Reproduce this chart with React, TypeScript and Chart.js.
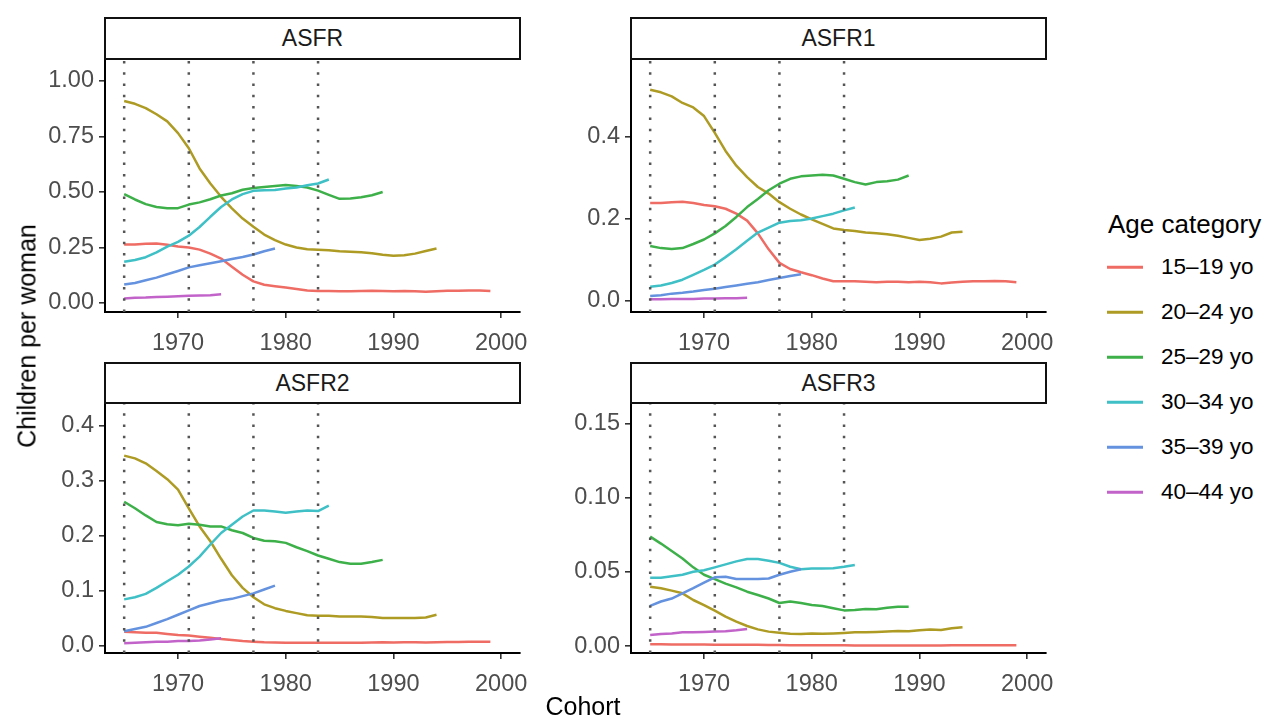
import React, { useEffect, useRef } from "react";
import { Chart, registerables } from "chart.js";

Chart.register(...registerables);

const FONT = "'Liberation Sans', Arial, Helvetica, sans-serif";

// ---------------- DATA ----------------
const years = [
  1965, 1966, 1967, 1968, 1969, 1970, 1971, 1972, 1973, 1974, 1975, 1976,
  1977, 1978, 1979, 1980, 1981, 1982, 1983, 1984, 1985, 1986, 1987, 1988,
  1989, 1990, 1991, 1992, 1993, 1994, 1995, 1996, 1997, 1998, 1999,
];
const ageGroups = ["15–19 yo", "20–24 yo", "25–29 yo", "30–34 yo", "35–39 yo", "40–44 yo"];
const ageColors = ["#EE6C64", "#AD9B24", "#3DB04A", "#3EC0C6", "#6492DF", "#C263CA"];
const cohortLines = [1965, 1971, 1977, 1983];
const xTicks = [1970, 1980, 1990, 2000];
const xTickLabels = ["1970", "1980", "1990", "2000"];
const panelTitles = ["ASFR", "ASFR1", "ASFR2", "ASFR3"];

// ASFR
const asfr_15_19 = [0.263, 0.263, 0.266, 0.268, 0.262, 0.254, 0.25, 0.24, 0.222, 0.2, 0.163, 0.127, 0.097, 0.082, 0.075, 0.069, 0.063, 0.056, 0.054, 0.054, 0.053, 0.053, 0.054, 0.055, 0.054, 0.053, 0.054, 0.053, 0.05, 0.053, 0.055, 0.055, 0.056, 0.056, 0.054];
const asfr_20_24 = [0.91, 0.897, 0.878, 0.85, 0.818, 0.765, 0.697, 0.606, 0.538, 0.478, 0.426, 0.38, 0.343, 0.308, 0.283, 0.263, 0.25, 0.242, 0.239, 0.237, 0.233, 0.231, 0.228, 0.224, 0.217, 0.213, 0.215, 0.222, 0.234, 0.245];
const asfr_25_29 = [0.49, 0.466, 0.445, 0.432, 0.427, 0.427, 0.443, 0.453, 0.467, 0.484, 0.494, 0.51, 0.518, 0.522, 0.527, 0.531, 0.527, 0.52, 0.506, 0.487, 0.469, 0.47, 0.476, 0.485, 0.5];
const asfr_30_34 = [0.185, 0.193, 0.206, 0.228, 0.254, 0.275, 0.303, 0.342, 0.388, 0.432, 0.466, 0.49, 0.505, 0.508, 0.509, 0.515, 0.52, 0.53, 0.538, 0.556];
const asfr_35_39 = [0.083, 0.09, 0.102, 0.114, 0.129, 0.144, 0.16, 0.17, 0.179, 0.188, 0.198, 0.207, 0.218, 0.233, 0.245];
const asfr_40_44 = [0.02, 0.023, 0.024, 0.027, 0.028, 0.03, 0.032, 0.033, 0.035, 0.039];

// ASFR1
const asfr1_15_19 = [0.239, 0.239, 0.241, 0.242, 0.239, 0.234, 0.231, 0.225, 0.213, 0.196, 0.165, 0.126, 0.093, 0.078, 0.07, 0.063, 0.055, 0.048, 0.048, 0.048, 0.047, 0.046, 0.047, 0.047, 0.046, 0.047, 0.046, 0.043, 0.045, 0.047, 0.048, 0.048, 0.049, 0.048, 0.046];
const asfr1_20_24 = [0.515, 0.509, 0.499, 0.483, 0.472, 0.451, 0.41, 0.366, 0.33, 0.302, 0.278, 0.262, 0.241, 0.225, 0.211, 0.199, 0.188, 0.177, 0.173, 0.171, 0.167, 0.165, 0.163, 0.159, 0.154, 0.149, 0.152, 0.157, 0.167, 0.169];
const asfr1_25_29 = [0.134, 0.129, 0.127, 0.129, 0.139, 0.15, 0.165, 0.183, 0.205, 0.229, 0.249, 0.27, 0.286, 0.298, 0.304, 0.306, 0.308, 0.306, 0.298, 0.29, 0.284, 0.29, 0.292, 0.296, 0.306];
const asfr1_30_34 = [0.035, 0.038, 0.044, 0.052, 0.064, 0.076, 0.089, 0.107, 0.126, 0.147, 0.167, 0.179, 0.191, 0.195, 0.197, 0.201, 0.207, 0.213, 0.221, 0.228];
const asfr1_35_39 = [0.012, 0.014, 0.018, 0.02, 0.023, 0.027, 0.03, 0.034, 0.038, 0.042, 0.046, 0.051, 0.056, 0.061, 0.065];
const asfr1_40_44 = [0.004, 0.004, 0.005, 0.005, 0.005, 0.006, 0.006, 0.007, 0.007, 0.008];

// ASFR2
const asfr2_15_19 = [0.025, 0.024, 0.023, 0.023, 0.021, 0.019, 0.018, 0.016, 0.014, 0.012, 0.01, 0.008, 0.007, 0.006, 0.0055, 0.005, 0.005, 0.005, 0.005, 0.005, 0.005, 0.005, 0.005, 0.0055, 0.006, 0.0055, 0.006, 0.006, 0.0055, 0.006, 0.0065, 0.0065, 0.007, 0.007, 0.0067];
const asfr2_20_24 = [0.346, 0.341, 0.332, 0.318, 0.303, 0.284, 0.25, 0.217, 0.19, 0.158, 0.128, 0.105, 0.088, 0.075, 0.068, 0.063, 0.059, 0.055, 0.054, 0.054, 0.053, 0.053, 0.053, 0.052, 0.05, 0.05, 0.05, 0.05, 0.051, 0.056];
const asfr2_25_29 = [0.262, 0.25, 0.237, 0.225, 0.221, 0.219, 0.222, 0.22, 0.217, 0.217, 0.21, 0.205, 0.196, 0.191, 0.19, 0.187, 0.179, 0.172, 0.164, 0.158, 0.152, 0.149, 0.149, 0.152, 0.156];
const asfr2_30_34 = [0.084, 0.088, 0.094, 0.105, 0.117, 0.129, 0.144, 0.162, 0.184, 0.205, 0.22, 0.235, 0.246, 0.246, 0.244, 0.242, 0.244, 0.246, 0.245, 0.255];
const asfr2_35_39 = [0.026, 0.03, 0.034, 0.041, 0.048, 0.056, 0.064, 0.072, 0.077, 0.082, 0.085, 0.09, 0.095, 0.102, 0.109];
const asfr2_40_44 = [0.004, 0.005, 0.006, 0.007, 0.007, 0.008, 0.008, 0.009, 0.011, 0.013];

// ASFR3
const asfr3_15_19 = [0.0012, 0.0012, 0.0011, 0.0011, 0.001, 0.001, 0.0009, 0.0009, 0.0008, 0.0008, 0.0008, 0.0007, 0.0007, 0.0006, 0.0006, 0.0005, 0.0005, 0.0005, 0.0005, 0.0004, 0.0004, 0.0004, 0.0004, 0.0004, 0.0004, 0.0004, 0.0004, 0.0004, 0.0005, 0.0005, 0.0005, 0.0006, 0.0006, 0.0006, 0.0006];
const asfr3_20_24 = [0.04, 0.0389, 0.0373, 0.0355, 0.031, 0.0276, 0.0238, 0.0198, 0.0164, 0.0135, 0.0112, 0.0097, 0.009, 0.0083, 0.0081, 0.0085, 0.0083, 0.0085, 0.0088, 0.0092, 0.0092, 0.0094, 0.0097, 0.0101, 0.0099, 0.0106, 0.0112, 0.0108, 0.0119, 0.0126];
const asfr3_25_29 = [0.0737, 0.069, 0.064, 0.059, 0.053, 0.048, 0.045, 0.042, 0.0395, 0.0366, 0.0344, 0.032, 0.029, 0.03, 0.029, 0.0277, 0.027, 0.0255, 0.024, 0.0243, 0.025, 0.0247, 0.0258, 0.0265, 0.0265];
const asfr3_30_34 = [0.046, 0.046, 0.047, 0.048, 0.05, 0.051, 0.053, 0.055, 0.057, 0.0586, 0.0586, 0.0575, 0.056, 0.0534, 0.0517, 0.0522, 0.0523, 0.0524, 0.0534, 0.0546];
const asfr3_35_39 = [0.027, 0.03, 0.032, 0.0355, 0.039, 0.0427, 0.0463, 0.0467, 0.0452, 0.0452, 0.0452, 0.0455, 0.048, 0.05, 0.0517];
const asfr3_40_44 = [0.0074, 0.0081, 0.0085, 0.0092, 0.0092, 0.0094, 0.0097, 0.0099, 0.0106, 0.0115];

// Y ticks per panel
const asfrTicks = [0, 0.25, 0.5, 0.75, 1.0];
const asfrTickLabels = ["0.00", "0.25", "0.50", "0.75", "1.00"];
const asfr1Ticks = [0, 0.2, 0.4];
const asfr1TickLabels = ["0.0", "0.2", "0.4"];
const asfr2Ticks = [0, 0.1, 0.2, 0.3, 0.4];
const asfr2TickLabels = ["0.0", "0.1", "0.2", "0.3", "0.4"];
const asfr3Ticks = [0, 0.05, 0.1, 0.15];
const asfr3TickLabels = ["0.00", "0.05", "0.10", "0.15"];

// Axis ranges (as displayed)
const xRange = [1963.22, 2001.75];
const asfrRange = [-0.041, 1.099];
const asfr1Range = [-0.0268, 0.5902];
const asfr2Range = [-0.0137, 0.4419];
const asfr3Range = [-0.0047, 0.1637];

// ---------------- LAYOUT ----------------
const Y_AXIS_W = 100;
const X_AXIS_H = 50;
const PAD_TOP = 5;
const PAD_RIGHT = 35;

type Rect = { left: number; right: number; top: number; bottom: number; stripTop: number };

const panelRects: Rect[] = [
  { left: 105, right: 520, top: 59, bottom: 312, stripTop: 17 },
  { left: 631, right: 1046, top: 59, bottom: 312, stripTop: 17 },
  { left: 105, right: 520, top: 403, bottom: 653, stripTop: 362 },
  { left: 631, right: 1046, top: 403, bottom: 653, stripTop: 362 },
];

type PanelProps = {
  title: string;
  series: number[][];
  yRange: number[];
  yTicks: number[];
  yTickLabels: string[];
  rect: Rect;
};

function Panel({ title, series, yRange, yTicks, yTickLabels, rect }: PanelProps) {
  const ref = useRef<HTMLCanvasElement | null>(null);
  const w = rect.right - rect.left + Y_AXIS_W + PAD_RIGHT;
  const h = rect.bottom - rect.top + PAD_TOP + X_AXIS_H;

  useEffect(() => {
    if (!ref.current) return;
    const [yMin, yMax] = yRange;
    const vlineSets = cohortLines.map((x) => ({
      data: [
        { x, y: yMin },
        { x, y: yMax },
      ],
      borderColor: "#555555",
      borderWidth: 2.5,
      borderDash: [2.5, 8.8],
      borderCapStyle: "butt",
      pointRadius: 0,
      fill: false,
      order: 0,
    }));
    const seriesSets = series.map((vals, i) => ({
      label: ageGroups[i],
      data: vals.map((v, j) => ({ x: years[j], y: v })),
      borderColor: ageColors[i],
      borderWidth: 2.5,
      pointRadius: 0,
      tension: 0,
      fill: false,
      borderJoinStyle: "round",
      order: 10 - i,
    }));
    const chart = new Chart(ref.current, {
      type: "line",
      data: { datasets: [...vlineSets, ...seriesSets] as any },
      options: {
        animation: false,
        responsive: false,
        maintainAspectRatio: false,
        devicePixelRatio: 1,
        parsing: false as any,
        normalized: true,
        events: [],
        layout: { padding: { left: 0, top: PAD_TOP, right: PAD_RIGHT, bottom: 0 } },
        plugins: { legend: { display: false }, tooltip: { enabled: false }, title: { display: false } },
        scales: {
          x: {
            type: "linear",
            min: xRange[0],
            max: xRange[1],
            afterBuildTicks: (s: any) => {
              s.ticks = xTicks.map((v) => ({ value: v }));
            },
            afterFit: (s: any) => {
              s.height = X_AXIS_H;
              s.paddingLeft = 0;
              s.paddingRight = 0;
            },
            ticks: {
              autoSkip: false,
              maxRotation: 0,
              padding: 11,
              color: "#4D4D4D",
              font: { family: FONT, size: 23.5 },
              callback: (v: any) => {
                const i = xTicks.indexOf(Number(v));
                return i >= 0 ? xTickLabels[i] : "";
              },
            },
            grid: {
              display: true,
              drawOnChartArea: false,
              drawTicks: true,
              tickLength: 6,
              color: "#333333",
              lineWidth: 1.6,
            },
            border: { display: true, color: "#000000", width: 2 },
          },
          y: {
            type: "linear",
            min: yMin,
            max: yMax,
            afterBuildTicks: (s: any) => {
              s.ticks = yTicks.map((v) => ({ value: v }));
            },
            afterFit: (s: any) => {
              s.width = Y_AXIS_W;
              s.paddingTop = 0;
              s.paddingBottom = 0;
            },
            ticks: {
              autoSkip: false,
              padding: 5,
              color: "#4D4D4D",
              font: { family: FONT, size: 23.5 },
              callback: (v: any) => {
                const i = yTicks.indexOf(Number(v));
                return i >= 0 ? yTickLabels[i] : "";
              },
            },
            grid: {
              display: true,
              drawOnChartArea: false,
              drawTicks: true,
              tickLength: 6,
              color: "#333333",
              lineWidth: 1.6,
            },
            border: { display: true, color: "#000000", width: 2 },
          },
        },
      } as any,
    });
    return () => chart.destroy();
  }, []);

  return (
    <>
      <canvas
        ref={ref}
        width={w}
        height={h}
        style={{
          position: "absolute",
          left: rect.left - Y_AXIS_W,
          top: rect.top - PAD_TOP,
          width: w,
          height: h,
        }}
      />
      <div
        style={{
          position: "absolute",
          left: rect.left - 1,
          top: rect.stripTop,
          width: rect.right - rect.left + 2,
          height: rect.top - rect.stripTop + 1,
          boxSizing: "border-box",
          border: "2px solid #111",
          background: "#fff",
          display: "flex",
          alignItems: "center",
          justifyContent: "center",
          fontFamily: FONT,
          fontSize: 23,
          color: "#1A1A1A",
        }}
      >
        {title}
      </div>
    </>
  );
}

export default function App() {
  const panelSeries = [
    [asfr_15_19, asfr_20_24, asfr_25_29, asfr_30_34, asfr_35_39, asfr_40_44],
    [asfr1_15_19, asfr1_20_24, asfr1_25_29, asfr1_30_34, asfr1_35_39, asfr1_40_44],
    [asfr2_15_19, asfr2_20_24, asfr2_25_29, asfr2_30_34, asfr2_35_39, asfr2_40_44],
    [asfr3_15_19, asfr3_20_24, asfr3_25_29, asfr3_30_34, asfr3_35_39, asfr3_40_44],
  ];
  const ranges = [asfrRange, asfr1Range, asfr2Range, asfr3Range];
  const ticks = [asfrTicks, asfr1Ticks, asfr2Ticks, asfr3Ticks];
  const tickLabels = [asfrTickLabels, asfr1TickLabels, asfr2TickLabels, asfr3TickLabels];

  return (
    <div
      style={{
        position: "absolute",
        left: 0,
        top: 0,
        width: 1263,
        height: 718,
        background: "#ffffff",
        overflow: "hidden",
        fontFamily: FONT,
      }}
    >
      {panelSeries.map((s, i) => (
        <Panel
          key={i}
          title={panelTitles[i]}
          series={s}
          yRange={ranges[i]}
          yTicks={ticks[i]}
          yTickLabels={tickLabels[i]}
          rect={panelRects[i]}
        />
      ))}
      <div
        style={{
          position: "absolute",
          left: 27,
          top: 336,
          transform: "translate(-50%, -50%) rotate(-90deg)",
          whiteSpace: "nowrap",
          fontSize: 25,
          color: "#000",
          lineHeight: 1,
        }}
      >
        Children per woman
      </div>
      <div
        style={{
          position: "absolute",
          left: 583,
          top: 706,
          transform: "translate(-50%, -50%)",
          whiteSpace: "nowrap",
          fontSize: 25,
          color: "#000",
          lineHeight: 1,
        }}
      >
        Cohort
      </div>
      <div
        style={{
          position: "absolute",
          left: 1108,
          top: 224,
          transform: "translateY(-50%)",
          whiteSpace: "nowrap",
          fontSize: 26,
          color: "#000",
          lineHeight: 1,
        }}
      >
        Age category
      </div>
      {ageGroups.map((g, i) => (
        <div
          key={g}
          style={{
            position: "absolute",
            left: 1107,
            top: 267 + i * 45,
            transform: "translateY(-50%)",
            display: "flex",
            alignItems: "center",
            whiteSpace: "nowrap",
          }}
        >
          <div style={{ width: 36, height: 2.5, background: ageColors[i] }} />
          <div style={{ marginLeft: 18, fontSize: 22.5, color: "#000", lineHeight: 1 }}>{g}</div>
        </div>
      ))}
    </div>
  );
}
